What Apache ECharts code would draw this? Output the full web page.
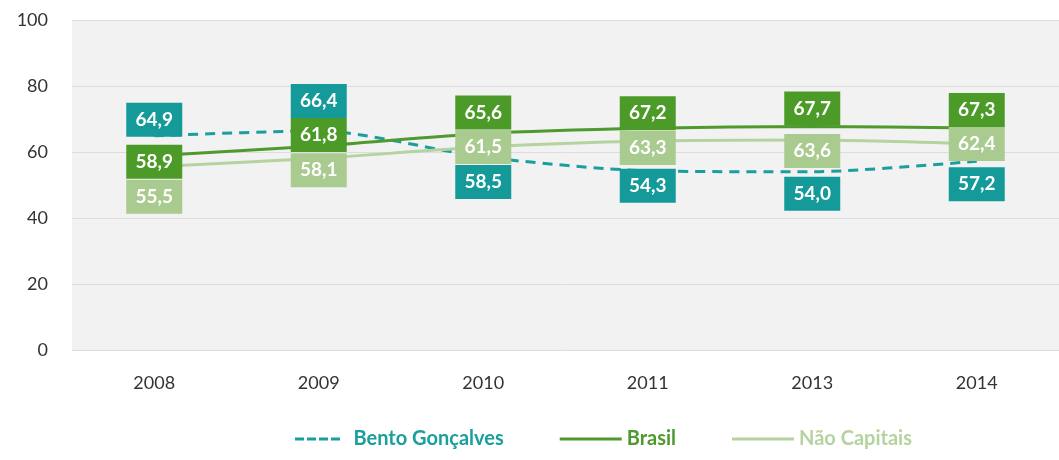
<!DOCTYPE html>
<html><head><meta charset="utf-8">
<script src="https://cdn.jsdelivr.net/npm/echarts@6/dist/echarts.min.js"></script>
<style>html,body{margin:0;padding:0;background:#fff}#c{width:1059px;height:460px}</style>
</head><body><div id="c"></div>
<script>
var categories = ['2008','2009','2010','2011','2013','2014'];
var bento = [64.9, 66.4, 58.5, 54.3, 54.0, 57.2];
var brasil = [58.9, 61.8, 65.6, 67.2, 67.7, 67.3];
var naoCapitais = [55.5, 58.1, 61.5, 63.3, 63.6, 62.4];
var yTicks = [0, 20, 40, 60, 80, 100];

// vertical offsets (px) of the label boxes relative to each point
var bentoLabelDy = [-16, -30, 25, 15, 22, 23];
var brasilLabelDy = [6, -11, -21, -15, -18, -18];
var naoLabelDy = [30, 12, 0, 7, 11, 0];

function fmt(v){ return v.toFixed(1).replace('.', ','); }
function mk(vals, dy){
  return vals.map(function(v,i){
    return {value: v, label: {position:'inside', offset:[0, dy[i]]}};
  });
}
function labelStyle(bg){
  return {show:true, formatter:function(p){return fmt(p.value);}, color:'#fff', fontFamily:'Lato', fontWeight:'bold', fontSize:19,
    backgroundColor:bg, width:42, height:22, lineHeight:22, align:'center', padding:[6,7,6,7]};
}
var chart = echarts.init(document.getElementById('c'));
chart.setOption({
  animation:false,
  grid:{left:72, right:-2, top:20, bottom:110, backgroundColor:'#f2f2f2', show:true, borderWidth:0},
  legend:{bottom:6, left:290, itemWidth:62, itemHeight:3, itemGap:56, icon:'rect',
    textStyle:{fontFamily:'Lato', fontWeight:'bold', fontSize:20},
    data:[{name:'Bento Gonçalves', textStyle:{color:'#1a9e9e'}, icon:'path://M0,0H12V4H0Z M16,0H28V4H16Z M32,0H44V4H32Z M48,0H60V4H48Z', itemStyle:{color:'#1a9e9e'}},
          {name:'Brasil', textStyle:{color:'#4e9a2e'}},
          {name:'Não Capitais', textStyle:{color:'#b5d39e'}}]},
  xAxis:{type:'category', data:categories, axisLine:{show:false}, axisTick:{show:false},
    axisLabel:{color:'#333', fontFamily:'Lato', fontSize:18, margin:24}},
  yAxis:{type:'value', min:0, max:100, interval:20, axisLine:{show:false}, axisTick:{show:false},
    splitLine:{lineStyle:{color:'#dcdcdc', width:1}},
    axisLabel:{color:'#333', fontFamily:'Lato', fontSize:18, margin:24,
      formatter:function(v){return yTicks.indexOf(v)>=0?String(v):'';}}},
  series:[
    {name:'Bento Gonçalves', type:'line', smooth:0.25, data:mk(bento,bentoLabelDy), symbol:'circle', symbolSize:0.1, showSymbol:true,
      lineStyle:{color:'#1a9e9e', width:3, type:[10,7]}, itemStyle:{color:'#1a9e9e'}, z:2,
      label:labelStyle('#159a9a')},
    {name:'Brasil', type:'line', smooth:0.25, data:mk(brasil,brasilLabelDy), symbol:'circle', symbolSize:0.1, showSymbol:true,
      lineStyle:{color:'#4e9a2e', width:3}, itemStyle:{color:'#4e9a2e'}, z:2,
      label:labelStyle('#4c9b29')},
    {name:'Não Capitais', type:'line', smooth:0.25, data:mk(naoCapitais,naoLabelDy), symbol:'circle', symbolSize:0.1, showSymbol:true,
      lineStyle:{color:'#b5d39e', width:3}, itemStyle:{color:'#b5d39e'}, z:2,
      label:labelStyle('#aacb8f')}
  ]
});
</script></body></html>
